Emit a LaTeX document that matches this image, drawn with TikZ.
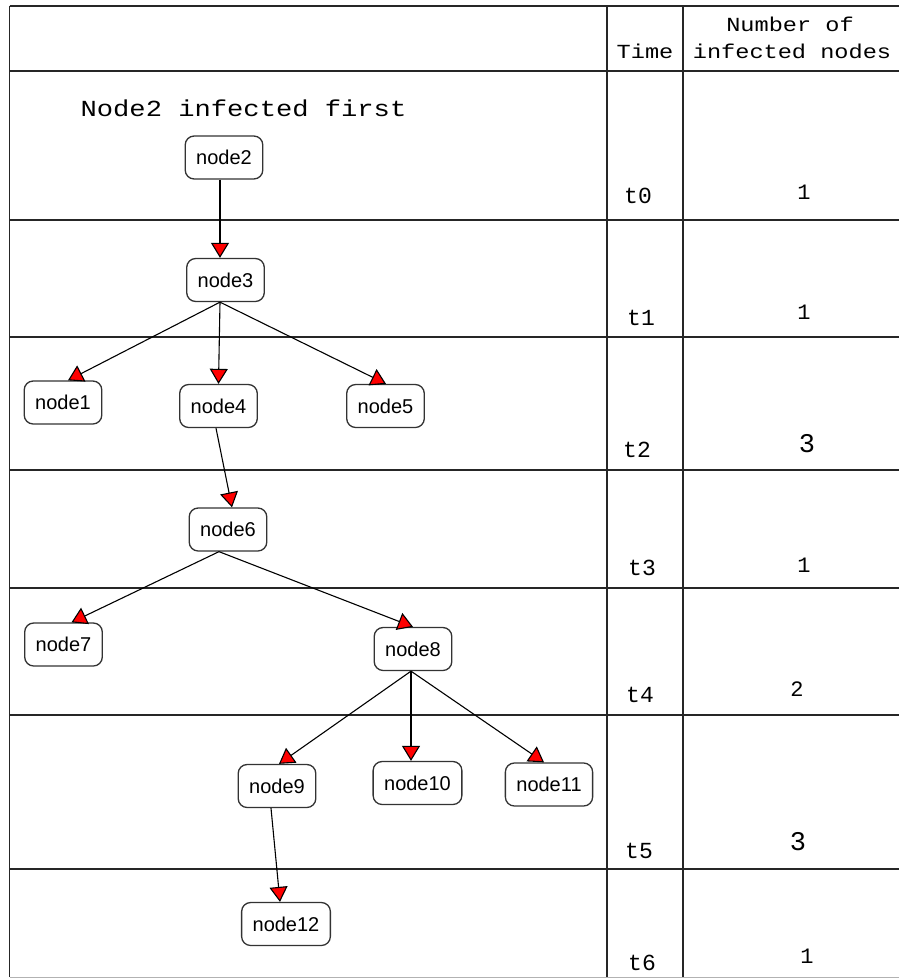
\documentclass[tikz,border=0pt]{standalone}
\usepackage{fontspec}
\setmainfont{Liberation Sans}
\newfontfamily\courwide[FakeStretch=1.18]{Liberation Mono}
\newfontfamily\courplain{Liberation Mono}
\usetikzlibrary{arrows.meta}

\begin{document}
\begin{tikzpicture}[x=1pt,y=-1pt,
  gridline/.style={line width=1.4pt, draw=black!85},
  vnode/.style={draw=black!80, line width=1.3pt, rounded corners=9pt, fill=white,
    minimum height=43pt, inner xsep=11pt, inner ysep=0pt,
    font=\fontsize{20}{24}\selectfont},
  edge/.style={line width=1.1pt, line join=miter,
    -{Triangle[width=18pt,length=15pt,fill=red]}},
  title/.style={anchor=base, inner sep=0pt, font=\courwide\fontsize{23}{26}\selectfont},
  head/.style={anchor=base, inner sep=0pt, font=\courwide\fontsize{20}{24}\selectfont},
  tlabel/.style={anchor=base, inner sep=0pt, font=\courplain\fontsize{23}{26}\selectfont},
  count/.style={anchor=base, inner sep=0pt, font=\courplain\fontsize{22}{26}\selectfont},
  countbig/.style={anchor=base, inner sep=0pt, font=\courplain\fontsize{27}{30}\selectfont}
]
% canvas
\fill[white] (0,0) rectangle (899,979);
\useasboundingbox (0,0) rectangle (899,979);

% table frame
\draw[gridline] (9.5,6) -- (899,6);
\draw[gridline] (9.5,6) -- (9.5,977);
\draw[gridline] (607,6) -- (607,977);
\draw[gridline] (683,6) -- (683,977);
\foreach \yy in {71,220,337,470,588,715,869}
  \draw[gridline] (9.5,\yy) -- (899,\yy);
\draw[line width=1.4pt, draw=black!30] (9.5,977.5) -- (899,977.5);

% header
\node[head] (hTime) at (645,59) {Time};
\node[head] (hNum1) at (790,32) {Number of};
\node[head] (hNum2) at (792,59) {infected nodes};

% time column
\node[tlabel] (t0) at (638,203) {t0};
\node[tlabel] (t1) at (641,325) {t1};
\node[tlabel] (t2) at (637,457) {t2};
\node[tlabel] (t3) at (642,575) {t3};
\node[tlabel] (t4) at (640,702) {t4};
\node[tlabel] (t5) at (639,858) {t5};
\node[tlabel] (t6) at (642,970) {t6};

% infected counts
\node[count] (c0) at (804,199) {1};
\node[count] (c1) at (804,319) {1};
\node[countbig] (c2) at (807,452) {3};
\node[count] (c3) at (804,572) {1};
\node[count] (c4) at (797,696) {2};
\node[countbig] (c5) at (798,850) {3};
\node[count] (c6) at (807,963) {1};

% caption
\node[title] (caption) at (243.5,117) {Node2 infected first};

% infection tree
\node[vnode] (n2)  at (224,157.5) {node2};
\node[vnode] (n3)  at (225.5,280) {node3};
\node[vnode] (n1)  at (63,402.5)  {node1};
\node[vnode] (n4)  at (218.5,406) {node4};
\node[vnode] (n5)  at (385.5,406) {node5};
\node[vnode] (n6)  at (228,529.5) {node6};
\node[vnode] (n7)  at (63.5,644.5) {node7};
\node[vnode] (n8)  at (413,649)   {node8};
\node[vnode] (n9)  at (277,786)   {node9};
\node[vnode] (n10) at (417.5,783) {node10};
\node[vnode] (n11) at (549,784.5) {node11};
\node[vnode] (n12) at (286,924)   {node12};

\draw[edge] ([xshift=-4]n2.south)   -- ([xshift=-5.5]n3.north);
\draw[edge] ([xshift=-5.5]n3.south) -- ([xshift=5]n1.north);
\draw[edge] ([xshift=-5.5]n3.south) -- ([xshift=0]n4.north);
\draw[edge] ([xshift=-5.5]n3.south) -- ([xshift=0.5]n5.north);
\draw[edge] ([xshift=-2.5]n4.south) -- ([xshift=4]n6.north);
\draw[edge] ([xshift=-9]n6.south)   -- ([xshift=8]n7.north);
\draw[edge] ([xshift=-9]n6.south)   -- ([xshift=0]n8.north);
\draw[edge] ([xshift=-2]n8.south)   -- ([xshift=2]n9.north);
\draw[edge] ([xshift=-2]n8.south)   -- ([xshift=-6.5]n10.north);
\draw[edge] ([xshift=-2]n8.south)   -- ([xshift=-5]n11.north);
\draw[edge] ([xshift=-6]n9.south)   -- ([xshift=-6]n12.north);
\end{tikzpicture}
\end{document}
